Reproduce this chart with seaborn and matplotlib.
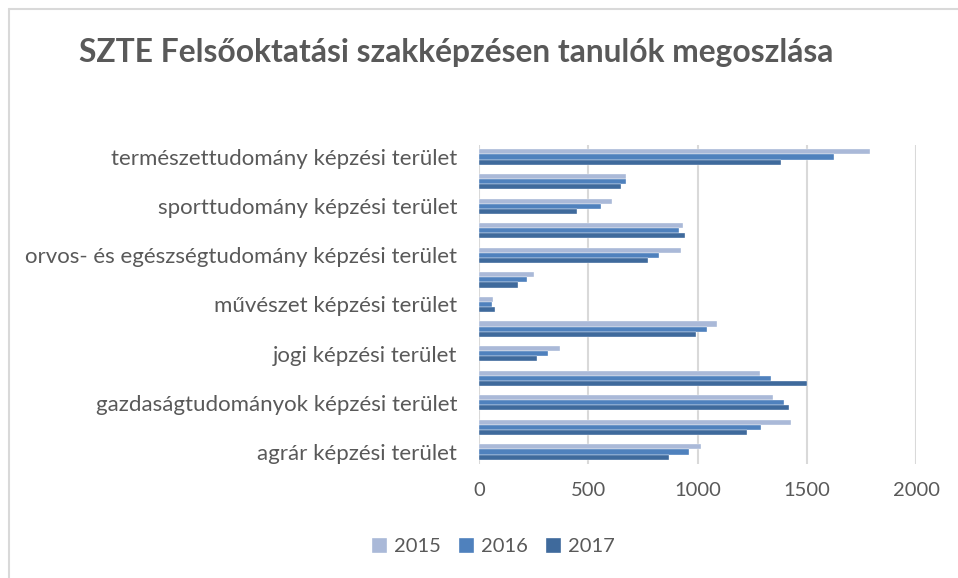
import pandas as pd
import seaborn as sns
import matplotlib.pyplot as plt
from matplotlib.lines import Line2D

# kategoriak fentrol lefele (ahogy a diagramon latszanak)
teruletek = [
    'természettudomány képzési terület',
    'társadalomtudomány képzési terület',
    'sporttudomány képzési terület',
    'pedagógusképzés képzési terület',
    'orvos- és egészségtudomány képzési terület',
    'művészetközvetítés képzési terület',
    'művészet képzési terület',
    'műszaki képzési terület',
    'jogi képzési terület',
    'informatika képzési terület',
    'gazdaságtudományok képzési terület',
    'bölcsészettudomány képzési terület',
    'agrár képzési terület',
]
ev_2015 = [1790, 673, 606, 932, 923, 252, 64, 1089, 370, 1286, 1345, 1426, 1016]
ev_2016 = [1625, 671, 558, 915, 822, 218, 60, 1043, 313, 1336, 1396, 1292, 962]
ev_2017 = [1381, 649, 449, 942, 774, 179, 70, 991, 264, 1501, 1419, 1226, 869]
evek = ['2015', '2016', '2017']
szinek = ['#AAB9D8', '#4F81BD', '#3F6A9C']

df = pd.DataFrame({'terulet': teruletek, '2015': ev_2015, '2016': ev_2016, '2017': ev_2017})
df = df.melt(id_vars='terulet', var_name='ev', value_name='fo')

szurke = '#595959'
sns.set_style('white')
plt.rcParams['font.family'] = ['Lato', 'DejaVu Sans']

fig = plt.figure(figsize=(9.58, 5.78), dpi=100)
ax = fig.add_axes([0.5003, 0.1967, 0.4559, 0.553])

sns.barplot(data=df, y='terulet', x='fo', hue='ev', order=teruletek, hue_order=evek,
            palette=szinek, orient='h', width=0.62, edgecolor='white', linewidth=0.25,
            saturation=1, ax=ax, zorder=3)

ax.set_xlim(0, 2000)
ax.set_xticks([0, 500, 1000, 1500, 2000])
ax.grid(axis='x', color='#D9D9D9', linewidth=1.5, zorder=0)
ax.set_axisbelow(True)
for s in ax.spines.values():
    s.set_visible(False)

cimkek = [t if i % 2 == 0 else '' for i, t in enumerate(teruletek)]
ax.set_yticks(range(len(teruletek)))
ax.set_yticklabels(cimkek)
ax.tick_params(axis='y', length=0, pad=16, labelsize=16, labelcolor=szurke)
ax.tick_params(axis='x', length=0, pad=13, labelsize=14.5, labelcolor=szurke)
ax.set_xlabel('')
ax.set_ylabel('')

ax.legend_.remove()
h, l = ax.get_legend_handles_labels()
fig.legend(h, l, loc='center', bbox_to_anchor=(0.515, 0.054), ncol=3, frameon=False,
           fontsize=14.5, labelcolor=szurke, handlelength=0.75, handleheight=0.75,
           handletextpad=0.35, columnspacing=0.9)

fig.suptitle('SZTE Felsőoktatási szakképzésen tanulók megoszlása', x=0.476, y=0.91,
             fontsize=22.9, fontweight='bold', color=szurke, va='center')

# a diagram keretenek latszo resze
fig.add_artist(Line2D([0.0099, 1.0], [0.9845, 0.9845], color='#D9D9D9', linewidth=1.5))
fig.add_artist(Line2D([0.0099, 0.0099], [0.0, 0.9845], color='#D9D9D9', linewidth=1.5))

fig.savefig('out.png', dpi=100, facecolor='white')
